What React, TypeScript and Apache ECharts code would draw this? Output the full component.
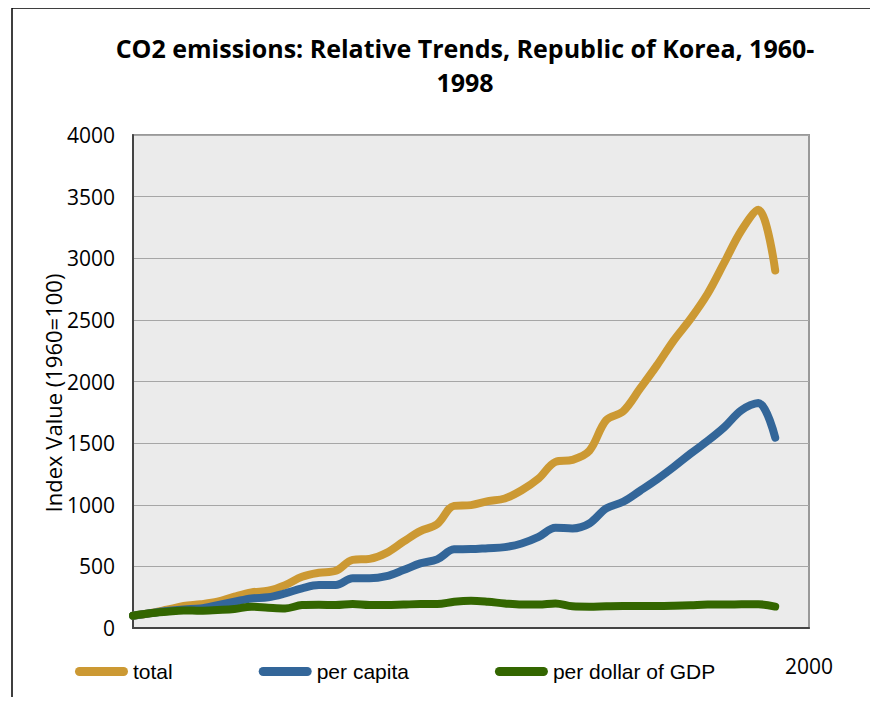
import React, { useEffect, useRef } from "react";
import * as echarts from "echarts";

const years = [
  1960, 1961, 1962, 1963, 1964, 1965, 1966, 1967, 1968, 1969, 1970, 1971, 1972,
  1973, 1974, 1975, 1976, 1977, 1978, 1979, 1980, 1981, 1982, 1983, 1984, 1985,
  1986, 1987, 1988, 1989, 1990, 1991, 1992, 1993, 1994, 1995, 1996, 1997, 1998,
];

const total = [
  100, 120, 148, 178, 192, 213, 254, 289, 302, 348, 416, 448, 464, 553, 561, 610,
  700, 786, 843, 991, 997, 1029, 1051, 1118, 1213, 1348, 1364, 1437, 1686, 1758,
  1942, 2131, 2334, 2510, 2712, 2968, 3225, 3393, 2901,
];

const perCapita = [
  100, 119, 138, 151, 159, 186, 213, 240, 249, 281, 322, 348, 348, 403, 403, 421,
  470, 524, 557, 638, 640, 648, 656, 686, 740, 813, 808, 848, 970, 1024, 1113,
  1205, 1307, 1416, 1518, 1631, 1767, 1826, 1545,
];

const perGdp = [
  100, 119, 132, 143, 140, 146, 154, 173, 165, 159, 186, 189, 186, 194, 186, 186,
  190, 194, 194, 213, 221, 213, 199, 190, 190, 199, 176, 173, 176, 178, 178, 178,
  180, 184, 190, 190, 192, 193, 174,
];

const seriesNames = ["total", "per capita", "per dollar of GDP"];
const seriesColors = ["#CC9933", "#336699", "#336600"];

const titleText = "CO2 emissions: Relative Trends, Republic of Korea, 1960-\n1998";
const yAxisName = "Index Value (1960=100)";

export default function App() {
  const ref = useRef<HTMLDivElement>(null);

  useEffect(() => {
    if (!ref.current) return;
    const chart = echarts.init(ref.current, null, { renderer: "svg" });
    const seriesData = [total, perCapita, perGdp];
    chart.setOption({
      animation: false,
      backgroundColor: "#ffffff",
      title: {
        text: titleText,
        left: 465,
        top: 31,
        textAlign: "center",
        padding: 0,
        textStyle: {
          fontFamily: "Open Sans",
          fontWeight: "bold",
          fontSize: 25,
          lineHeight: 34,
          color: "#000",
        },
      },
      legend: {
        left: 75,
        top: 661,
        padding: 0,
        itemGap: 86,
        itemWidth: 53,
        itemHeight: 9,
        icon: "path://M4.5,0 H48.5 A4.5,4.5 0 0 1 48.5,9 H4.5 A4.5,4.5 0 0 1 4.5,0 Z",
        data: seriesNames,
        textStyle: {
          fontFamily: "Liberation Sans",
          fontSize: 21,
          color: "#000",
        },
      },
      grid: {
        left: 133,
        right: 69,
        top: 135,
        bottom: 77,
        show: true,
        backgroundColor: "#ebebeb",
        borderColor: "#999",
        borderWidth: 2,
      },
      xAxis: {
        type: "value",
        min: 1960,
        max: 2000,
        interval: 40,
        axisLine: { show: true, lineStyle: { color: "#444", width: 2 } },
        axisTick: { show: false },
        splitLine: { show: false },
        axisLabel: {
          margin: 27,
          fontFamily: "Open Sans",
          fontSize: 21,
          color: "#000",
          formatter: (v: number) => (v === 2000 ? "2000" : ""),
        },
      },
      yAxis: {
        type: "value",
        min: 0,
        max: 4000,
        interval: 500,
        axisLine: { show: true, lineStyle: { color: "#444", width: 2 } },
        axisTick: { show: false },
        splitLine: { show: true, lineStyle: { color: "#a6a6a6", width: 1 } },
        axisLabel: {
          margin: 18,
          fontFamily: "Open Sans",
          fontSize: 21,
          color: "#000",
          formatter: (v: number) => String(v),
        },
      },
      graphic: [
        {
          type: "text",
          x: 53,
          y: 393,
          rotation: Math.PI / 2,
          style: {
            text: yAxisName,
            fontFamily: "Open Sans",
            fontSize: 22,
            fill: "#000",
            align: "center",
            verticalAlign: "middle",
          },
          z: 10,
        },
        {
          type: "rect",
          shape: { x: 12, y: 8, width: 859, height: 730 },
          style: { fill: "none", stroke: "#000", lineWidth: 1.5 },
          silent: true,
        },
      ],
      series: seriesNames.map((name, i) => ({
        name,
        type: "line",
        data: years.map((y, j) => [y, seriesData[i][j]]),
        smooth: 0.35,
        showSymbol: false,
        symbol: "none",
        color: seriesColors[i],
        lineStyle: { color: seriesColors[i], width: 8, cap: "round", join: "round" },
        z: 2 + i,
      })),
    });
    return () => chart.dispose();
  }, []);

  return <div ref={ref} style={{ width: 878, height: 705, margin: -8 }} />;
}
